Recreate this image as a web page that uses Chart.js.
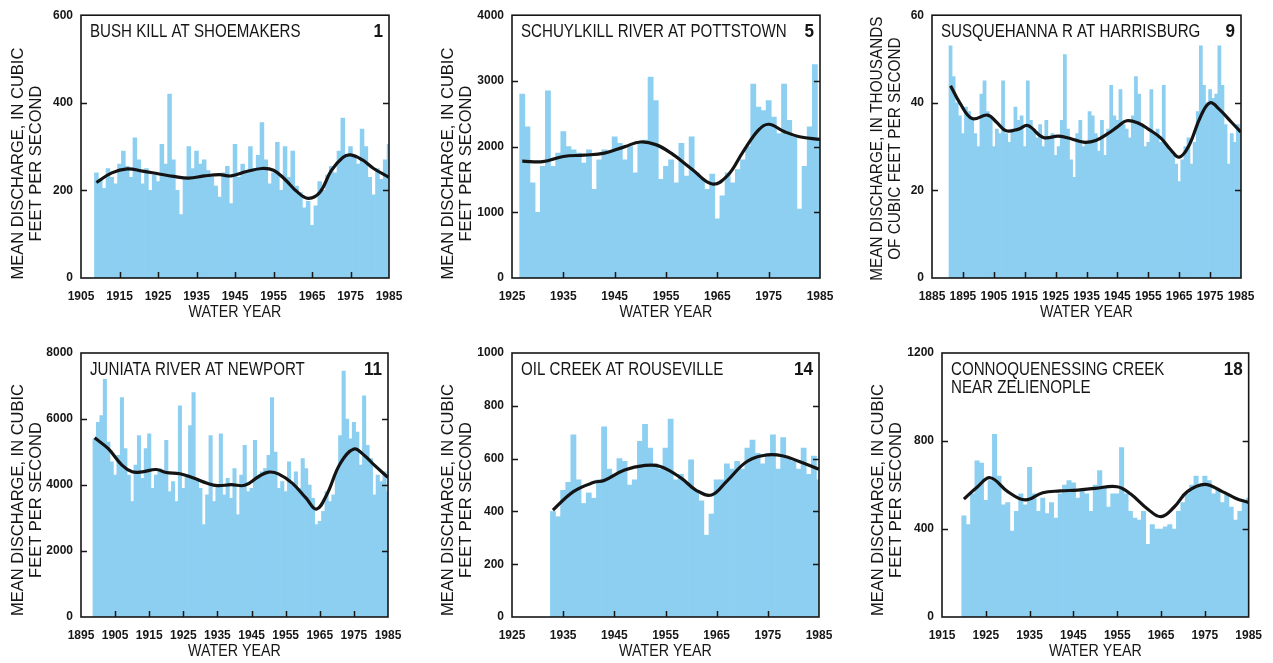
<!DOCTYPE html>
<html>
<head>
<meta charset="utf-8">
<script src="https://cdn.jsdelivr.net/npm/chart.js@4.4.0/dist/chart.umd.min.js"></script>
<style>
  html, body { margin: 0; padding: 0; background: #ffffff; }
  #wrap { position: relative; width: 1273px; height: 663px; overflow: hidden; background: #fff; }
  #wrap canvas { position: absolute; }
</style>
</head>
<body>
<div id="wrap"></div>
<script>
// ---- Annual mean discharge by water year (bars) and smoothed trend (line) ----

// 1  Bush Kill at Shoemakers (cfs)
const bushKillFirstYear = 1909;
const bushKillFlow = [
  240, 225, 205, 250, 230, 215, 260, 290, 255, 230,
  320, 270, 215, 250, 200, 235, 220, 305, 260, 420,
  270, 200, 145, 225, 300, 250, 290, 260, 270, 245,
  230, 210, 185, 240, 255, 170, 305, 230, 260, 240,
  300, 250, 280, 355, 270, 215, 240, 310, 200, 300,
  230, 290, 210, 195, 160, 175, 120, 165, 220, 200,
  235, 255, 240, 290, 365, 280, 300, 280, 260, 340,
  300, 230, 190, 250, 225, 270, 305
];
const bushKillTrendYears = [1909, 1913, 1917, 1921, 1925, 1929, 1933, 1937, 1941, 1944, 1948, 1952, 1955, 1958, 1961, 1964, 1967, 1970, 1973, 1975, 1978, 1981, 1985];
const bushKillTrend      = [218, 240, 249, 244, 238, 232, 228, 233, 236, 233, 243, 250, 246, 225, 198, 182, 195, 245, 275, 281, 270, 250, 230];

// 5  Schuylkill River at Pottstown (cfs)
const schuylkillFirstYear = 1927;
const schuylkillFlow = [
  2800, 2300, 1450, 1000, 1700, 2850, 1700, 1900, 2230, 2000,
  1950, 1900, 1750, 1950, 1350, 1800, 1950, 1900, 2150, 2050,
  1800, 2000, 1600, 2050, 2100, 3060, 2700, 1500, 1700, 1800,
  1450, 2050, 1550, 2150, 1600, 1500, 1350, 1580, 900, 1250,
  1600, 1450, 1650, 1800, 2000, 2950, 2600, 2550, 2700, 2450,
  2200, 2950, 2400, 2150, 1050, 1700, 2300, 3250, 2100
];
const schuylkillTrendYears = [1927, 1931, 1935, 1939, 1943, 1947, 1950, 1953, 1956, 1960, 1964, 1967, 1970, 1973, 1975, 1978, 1981, 1985];
const schuylkillTrend      = [1780, 1770, 1850, 1870, 1900, 2000, 2070, 2030, 1900, 1660, 1430, 1560, 1920, 2250, 2340, 2230, 2150, 2110];

// 9  Susquehanna River at Harrisburg (thousands of cfs)
const susquehannaFirstYear = 1891;
const susquehannaFlow = [
  53, 46, 40, 37, 33, 39, 38, 36, 33, 30,
  42, 45, 38, 37, 30, 34, 33, 45, 33, 31,
  34, 39, 36, 37, 30, 45, 36, 34, 32, 35,
  30, 36, 32, 33, 28, 30, 36, 51, 34, 27,
  23, 33, 36, 30, 31, 38, 37, 33, 29, 36,
  28, 34, 44, 37, 36, 43, 35, 34, 32, 37,
  46, 42, 35, 30, 31, 43, 33, 34, 31, 44,
  30, 29, 28, 26, 22, 27, 30, 32, 26, 31,
  38, 53, 44, 40, 43, 41, 42, 53, 44, 35,
  26, 33, 31, 35, 33
];
const susquehannaTrendYears = [1891, 1894, 1898, 1903, 1906, 1909, 1913, 1916, 1921, 1926, 1930, 1934, 1938, 1942, 1945, 1948, 1952, 1955, 1959, 1962, 1965, 1968, 1972, 1975, 1978, 1982, 1985];
const susquehannaTrend      = [43.9, 40, 36.4, 37.2, 35.5, 33.6, 34.0, 34.8, 32.1, 32.4, 31.8, 31, 31.4, 33, 34.5, 35.9, 35.3, 34, 32, 29.5, 27.6, 30, 37, 40, 38.5, 35.5, 33.3];

// 11  Juniata River at Newport (cfs)
const juniataFirstYear = 1899;
const juniataFlow = [
  5400, 5900, 6100, 7200, 5300, 4700, 4300, 4900, 6650, 5100,
  4300, 3500, 4600, 5500, 4200, 5100, 5550, 3900, 4300, 4500,
  4400, 5350, 3800, 4100, 3500, 6400, 3900, 4300, 5800, 6800,
  4200, 3900, 2800, 3700, 5500, 3500, 4000, 5550, 3700, 4200,
  3600, 4500, 3100, 4300, 5200, 3800, 3900, 5350, 4200, 4400,
  4500, 4900, 6650, 5000, 3900, 4100, 3800, 4700, 4000, 4400,
  3900, 4800, 4500, 4000, 3600, 2800, 2900, 3200, 3800, 3500,
  3700, 4400, 5500, 7450, 6000, 5400, 5900, 5600, 4600, 6700,
  5200, 4800, 3700, 4300, 4100, 4400, 3800
];
const juniataTrendYears = [1899, 1903, 1907, 1910, 1913, 1917, 1920, 1924, 1928, 1932, 1935, 1939, 1943, 1947, 1950, 1953, 1957, 1961, 1964, 1967, 1971, 1975, 1978, 1981, 1985];
const juniataTrend      = [5430, 5100, 4600, 4400, 4400, 4470, 4380, 4340, 4210, 4050, 3980, 4010, 3990, 4250, 4390, 4330, 4050, 3600, 3270, 3700, 4650, 5090, 4900, 4600, 4230];

// 14  Oil Creek at Rouseville (cfs)
const oilCreekFirstYear = 1933;
const oilCreekFlow = [
  400, 380, 480, 510, 690, 520, 430, 470, 450, 520,
  720, 560, 540, 600, 590, 500, 520, 665, 730, 640,
  580, 560, 640, 750, 520, 540, 510, 595, 480, 440,
  310, 390, 520, 520, 580, 560, 590, 560, 640, 670,
  620, 580, 620, 690, 560, 680, 600, 590, 560, 640,
  540, 610, 520
];
const oilCreekTrendYears = [1933, 1937, 1941, 1943, 1947, 1951, 1954, 1958, 1961, 1964, 1967, 1971, 1975, 1978, 1981, 1985];
const oilCreekTrend      = [405, 475, 510, 517, 557, 574, 570, 527, 480, 462, 515, 590, 614, 610, 590, 560];

// 18  Connoquenessing Creek near Zelienople (cfs)
const connoqFirstYear = 1920;
const connoqFlow = [
  460, 420, 560, 710, 700, 530, 620, 830, 640, 510,
  520, 390, 480, 560, 510, 680, 560, 480, 540, 470,
  520, 450, 560, 600, 620, 610, 540, 580, 560, 480,
  600, 665, 590, 500, 560, 560, 770, 560, 480, 450,
  440, 480, 330, 420, 400, 400, 410, 420, 400, 480,
  520, 560, 600, 640, 600, 640, 620, 560, 580, 520,
  560, 500, 440, 480, 520, 540
];
const connoqTrendYears = [1920, 1923, 1926, 1930, 1934, 1938, 1942, 1946, 1950, 1955, 1958, 1962, 1965, 1968, 1971, 1975, 1979, 1982, 1985];
const connoqTrend      = [536, 590, 633, 570, 532, 565, 573, 577, 585, 592, 560, 490, 456, 500, 570, 603, 570, 540, 520];

// ---- Styling ----
const FONT = "'Liberation Sans', Arial, Helvetica, sans-serif";
const INK = '#161616';
const BAR_BLUE = '#8dcff1';
const SQUEEZE = 0.84;           // narrow lettering for the station names

const CFS_TITLE = ['MEAN DISCHARGE, IN CUBIC', 'FEET PER SECOND'];

const panels = [
  { name: ['BUSH KILL AT SHOEMAKERS'], num: '1', yTitle: CFS_TITLE,
    first: bushKillFirstYear, flow: bushKillFlow, tYears: bushKillTrendYears, trend: bushKillTrend,
    xMin: 1905, xMax: 1985, yMax: 600, yStep: 200,
    box: { left: 0, top: 0, width: 420, height: 330 }, pad: { top: 13, right: 31, yw: 81, xh: 52 },
    yTitleGap: 63, yTitleShift: 17, yTitleSqueeze: 1 },
  { name: ['SCHUYLKILL RIVER AT POTTSTOWN'], num: '5', yTitle: CFS_TITLE,
    first: schuylkillFirstYear, flow: schuylkillFlow, tYears: schuylkillTrendYears, trend: schuylkillTrend,
    xMin: 1925, xMax: 1985, yMax: 4000, yStep: 1000,
    box: { left: 420, top: 0, width: 430, height: 330 }, pad: { top: 13, right: 30, yw: 92, xh: 52 },
    yTitleGap: 64, yTitleShift: 17, yTitleSqueeze: 1 },
  { name: ['SUSQUEHANNA R AT HARRISBURG'], num: '9', yTitle: ['MEAN DISCHARGE, IN THOUSANDS', 'OF CUBIC FEET PER SECOND'],
    first: susquehannaFirstYear, flow: susquehannaFlow, tYears: susquehannaTrendYears, trend: susquehannaTrend,
    xMin: 1885, xMax: 1985, yMax: 60, yStep: 20,
    box: { left: 850, top: 0, width: 423, height: 330 }, pad: { top: 13, right: 32, yw: 82, xh: 52 },
    yTitleGap: 55, yTitleShift: 2, yTitleSqueeze: 0.93 },
  { name: ['JUNIATA RIVER AT NEWPORT'], num: '11', yTitle: CFS_TITLE,
    first: juniataFirstYear, flow: juniataFlow, tYears: juniataTrendYears, trend: juniataTrend,
    xMin: 1895, xMax: 1985, yMax: 8000, yStep: 2000,
    box: { left: 0, top: 330, width: 420, height: 333 }, pad: { top: 23, right: 32, yw: 81, xh: 46 },
    yTitleGap: 63, yTitleShift: 15, yTitleSqueeze: 1 },
  { name: ['OIL CREEK AT ROUSEVILLE'], num: '14', yTitle: CFS_TITLE,
    first: oilCreekFirstYear, flow: oilCreekFlow, tYears: oilCreekTrendYears, trend: oilCreekTrend,
    xMin: 1925, xMax: 1985, yMax: 1000, yStep: 200,
    box: { left: 420, top: 330, width: 430, height: 333 }, pad: { top: 23, right: 31, yw: 92, xh: 46 },
    yTitleGap: 64, yTitleShift: 15, yTitleSqueeze: 1 },
  { name: ['CONNOQUENESSING CREEK', 'NEAR ZELIENOPLE'], num: '18', yTitle: CFS_TITLE,
    first: connoqFirstYear, flow: connoqFlow, tYears: connoqTrendYears, trend: connoqTrend,
    xMin: 1915, xMax: 1985, yMax: 1200, yStep: 400,
    box: { left: 850, top: 330, width: 423, height: 333 }, pad: { top: 23, right: 23, yw: 92, xh: 46 },
    yTitleGap: 64, yTitleShift: 15, yTitleSqueeze: 1 }
];

// Draws text with a horizontal squeeze (optionally rotated for vertical captions)
function narrowText(ctx, text, x, y, size, weight, align, rotate, squeeze) {
  ctx.save();
  ctx.translate(x, y);
  if (rotate) ctx.rotate(-Math.PI / 2);
  ctx.scale(squeeze, 1);
  ctx.font = `${weight} ${size}px ${FONT}`;
  ctx.textAlign = align;
  ctx.textBaseline = 'middle';
  ctx.fillStyle = INK;
  ctx.fillText(text, 0, 0);
  ctx.restore();
}

// Frame, inward tick marks and captions for each panel
const panelDecor = {
  id: 'panelDecor',
  afterDatasetsDraw(chart, args, o) {
    const { ctx, chartArea: a, scales: { x, y } } = chart;
    ctx.save();
    ctx.strokeStyle = INK;
    ctx.lineWidth = 1.6;
    ctx.strokeRect(a.left, a.top, a.right - a.left, a.bottom - a.top);

    ctx.lineWidth = 1.5;
    ctx.beginPath();
    y.ticks.forEach(t => {
      if (t.value <= y.min || t.value >= y.max) return;
      const py = Math.round(y.getPixelForValue(t.value)) + 0.5;
      ctx.moveTo(a.left, py); ctx.lineTo(a.left + 6, py);
      ctx.moveTo(a.right, py); ctx.lineTo(a.right - 6, py);
    });
    x.ticks.forEach(t => {
      if (t.value <= x.min || t.value >= x.max) return;
      const px = Math.round(x.getPixelForValue(t.value)) + 0.5;
      ctx.moveTo(px, a.bottom); ctx.lineTo(px, a.bottom - 6);
    });
    ctx.stroke();
    ctx.restore();

    // station name and site number inside the plot
    o.name.forEach((line, i) => {
      narrowText(ctx, line, a.left + 9, a.top + 17 + i * 18, 18, 'normal', 'left', false, SQUEEZE);
    });
    narrowText(ctx, o.num, a.right - 6, a.top + 17, 18, 'bold', 'right', false, 0.95);

    // vertical axis caption, two lines
    const cy = (a.top + a.bottom) / 2 + o.yTitleShift;
    o.yTitle.forEach((line, i) => {
      narrowText(ctx, line, a.left - o.yTitleGap + i * 18, cy, 16.5, 'normal', 'center', true, o.yTitleSqueeze);
    });

    // horizontal axis caption
    narrowText(ctx, 'WATER YEAR', (a.left + a.right) / 2, a.bottom + 34, 17, 'normal', 'center', false, SQUEEZE);
  }
};

const wrap = document.getElementById('wrap');

panels.forEach(p => {
  const cv = document.createElement('canvas');
  cv.width = p.box.width;
  cv.height = p.box.height;
  cv.style.left = p.box.left + 'px';
  cv.style.top = p.box.top + 'px';
  cv.style.width = p.box.width + 'px';
  cv.style.height = p.box.height + 'px';
  wrap.appendChild(cv);

  const barPoints = p.flow.map((v, i) => ({ x: p.first + i, y: v }));
  const trendPoints = p.tYears.map((yr, i) => ({ x: yr, y: p.trend[i] }));

  const tickFont = { family: FONT, size: 12, weight: 'bold' };

  new Chart(cv, {
    type: 'bar',
    data: {
      datasets: [
        {
          type: 'line',
          data: trendPoints,
          borderColor: '#141414',
          borderWidth: 3.2,
          pointRadius: 0,
          tension: 0.4,
          fill: false,
          order: 1
        },
        {
          type: 'bar',
          data: barPoints,
          backgroundColor: BAR_BLUE,
          borderWidth: 0,
          barPercentage: 1,
          categoryPercentage: 1,
          clip: 0,
          order: 2
        }
      ]
    },
    options: {
      responsive: false,
      devicePixelRatio: 1,
      animation: false,
      events: [],
      layout: { padding: { left: 0, top: p.pad.top, right: p.pad.right, bottom: 0 } },
      plugins: {
        legend: { display: false },
        tooltip: { enabled: false },
        title: { display: false },
        panelDecor: p
      },
      scales: {
        x: {
          type: 'linear',
          offset: false,
          min: p.xMin,
          max: p.xMax,
          grid: { display: false, drawTicks: false, offset: false },
          border: { display: false },
          ticks: {
            stepSize: 10,
            autoSkip: false,
            maxRotation: 0,
            padding: 11,
            color: INK,
            font: tickFont,
            callback: v => String(v)
          },
          afterFit: s => { s.height = p.pad.xh; }
        },
        y: {
          type: 'linear',
          min: 0,
          max: p.yMax,
          grid: { display: false, drawTicks: false },
          border: { display: false },
          ticks: {
            stepSize: p.yStep,
            padding: 8,
            color: INK,
            font: tickFont,
            callback: v => String(v)
          },
          afterFit: s => { s.width = p.pad.yw; }
        }
      }
    },
    plugins: [panelDecor]
  });
});
</script>
</body>
</html>
